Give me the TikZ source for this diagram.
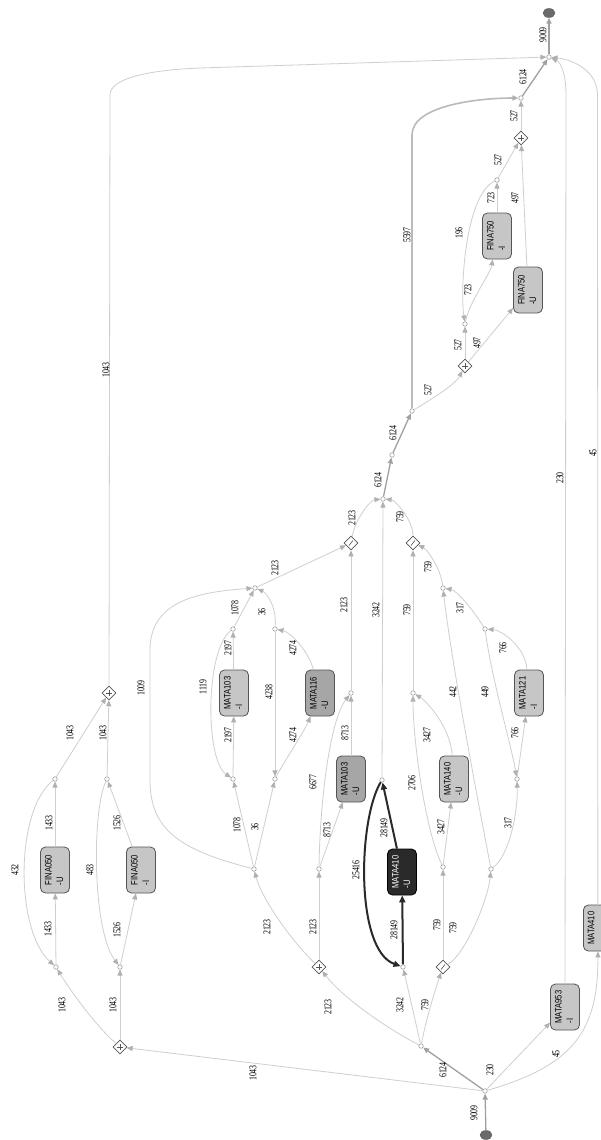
\documentclass[tikz,border=0pt]{standalone}
\usepackage{graphicx}
\usepackage{fontspec}
\setmainfont{Liberation Serif}
\newfontfamily\boxfont{Liberation Sans}
\usetikzlibrary{arrows.meta,shapes.geometric}
\definecolor{edg}{HTML}{CFCFCF}
\definecolor{arr}{HTML}{B0B0B0}
\definecolor{med}{HTML}{A0A0A0}
\definecolor{dk}{HTML}{2A2A2A}
\definecolor{bl}{HTML}{C6C6C6}
\definecolor{bm}{HTML}{A6A6A6}
\definecolor{bord}{HTML}{555555}
\definecolor{termc}{HTML}{6A6A6A}
\newcommand{\lt}[1]{\rotatebox{90}{\scalebox{0.75}[1]{\fontsize{10.5}{11}\selectfont #1}}}
\newcommand{\bt}[2]{\rotatebox{90}{\scalebox{0.8}[1]{\boxfont\fontsize{9.5}{11.5}\selectfont\begin{tabular}{@{}l@{}}#1\\#2\end{tabular}}}}
\tikzset{
 dot/.style={circle,draw=med,fill=white,line width=0.6pt,minimum size=4.5pt,inner sep=0pt},
 gate/.style={diamond,draw=bord,fill=white,line width=0.8pt,minimum size=14pt,inner sep=0pt},
 plusgate/.style={gate,path picture={\draw[bord,line width=0.6pt] ([xshift=-3pt]path picture bounding box.center) -- ([xshift=3pt]path picture bounding box.center) ([yshift=-3pt]path picture bounding box.center) -- ([yshift=3pt]path picture bounding box.center);}},
 xorgate/.style={gate,path picture={\draw[bord,line width=0.6pt] ([xshift=-2pt,yshift=-2.5pt]path picture bounding box.center) -- ([xshift=2pt,yshift=2.5pt]path picture bounding box.center);}},
 act/.style={rectangle,rounded corners=5pt,draw=bord,line width=0.8pt,minimum width=29pt,minimum height=46pt,inner sep=0pt,fill=bl},
 actm/.style={act,fill=bm},
 actd/.style={act,fill=dk,draw=black,text=white},
 lbl/.style={inner sep=0pt,text=black},
 term/.style={ellipse,fill=termc,draw=bord,minimum width=12pt,minimum height=9pt,inner sep=0pt},
 flow/.style={draw=edg,line width=0.8pt,-{Triangle[length=6pt,width=5pt,color=arr]}},
 flowm/.style={draw=med,line width=1.3pt,-{Triangle[length=6pt,width=5pt,color=med]}},
 flowd/.style={draw=dk,line width=2pt,-{Triangle[length=7pt,width=6pt,color=dk]}},
}
\begin{document}
\begin{tikzpicture}[x=1pt,y=-1pt]
\fill[white] (0,0) rectangle (601,1140);
\useasboundingbox (0,0) rectangle (601,1140);
% terminals and dots
\node[term] (S) at (486,1135) {};
\node[term] (E2) at (549,13) {};
\node[dot] (d0) at (485,1091) {};
\node[dot] (A) at (421,1046) {};
\node[dot] (J) at (403,967) {};
\node[dot] (K) at (382,780) {};
\node[dot] (M) at (383,499) {};
\node[dot] (L) at (443,867) {};
\node[dot] (N) at (491,869) {};
\node[dot] (O) at (413,693) {};
\node[dot] (Q) at (517,779) {};
\node[dot] (R) at (443,588) {};
\node[dot] (T) at (485,629) {};
\node[dot] (U) at (319,869) {};
\node[dot] (V) at (254,869) {};
\node[dot] (W) at (351,693) {};
\node[dot] (B1) at (233,779) {};
\node[dot] (B2) at (275,779) {};
\node[dot] (C1) at (233,629) {};
\node[dot] (C2) at (275,629) {};
\node[dot] (Z) at (255,588) {};
\node[dot] (E) at (392,455) {};
\node[dot] (F) at (412,411) {};
\node[dot] (H) at (465,324) {};
\node[dot] (I) at (497,180) {};
\node[dot] (G) at (521,98) {};
\node[dot] (EM) at (549,57) {};
\node[dot] (D1) at (56,967) {};
\node[dot] (D2) at (120,967) {};
\node[dot] (D3) at (55,779) {};
\node[dot] (D4) at (107,779) {};
% gates
\node[xorgate] (X1) at (443,967) {};
\node[xorgate] (X2) at (413,543) {};
\node[xorgate] (X3) at (351,543) {};
\node[plusgate] (P1) at (120,1047) {};
\node[plusgate] (P2) at (319,967) {};
\node[plusgate] (P3) at (465,366) {};
\node[plusgate] (P4) at (521,138) {};
\node[plusgate] (P5) at (109,693) {};
% activities
\node[act] (f050u) at (55,870) {\bt{FINA050}{-U}};
\node[act] (f050i) at (141,870) {\bt{FINA050}{-I}};
\node[act] (m103i) at (234,693) {\bt{MATA103}{-I}};
\node[actm] (m116) at (320,693) {\bt{MATA116}{-U}};
\node[actm] (m103u) at (351,779) {\bt{MATA103}{-U}};
\node[actd] (m410) at (402,872) {\bt{MATA410}{-U}};
\node[act] (m140) at (454,779) {\bt{MATA140}{-U}};
\node[act] (m121) at (529,693) {\bt{MATA121}{-I}};
\node[act] (m953) at (565,1007) {\bt{MATA953}{-I}};
\node[act,anchor=west] (m410b) at (583,928) {\bt{MATA410}{\phantom{-U}}};
\node[act] (f750i) at (497,236) {\bt{FINA750}{-I}};
\node[act] (f750u) at (528,290) {\bt{FINA750}{-U}};
% edges
\draw[flowm] (S) -- (d0);
\draw[flowm] (d0) -- (A);
\draw[flow] (d0) -- (m953);
\draw[flow] (d0) .. controls (575,1065) and (598,1030) .. (m410b);
\draw[flow] (m410b) -- (597.5,95) .. controls (597.5,72) and (575,60) .. (EM);
\draw[flow] (m953) -- (566,95) .. controls (566,72) and (560,62) .. (EM);
\draw[flow] (d0) -- (P1);
\draw[flow] (A) .. controls (426,1020) and (435,990) .. (X1);
\draw[flow] (A) -- (J);
\draw[flow] (A) .. controls (390,1030) and (345,1000) .. (P2);
\draw[flowd] (J) -- (m410);
\draw[flowd] (m410) -- (K);
\draw[flowd] (K) .. controls (358,820) and (355,950) .. (J);
\draw[flow] (K) -- (M);
\draw[flow] (X1) -- (L);
\draw[flow] (X1) .. controls (465,955) and (488,900) .. (N);
\draw[flow] (L) -- (m140);
\draw[flow] (L) .. controls (425,830) and (413,740) .. (O);
\draw[flow] (m140) .. controls (450,725) and (425,700) .. (O);
\draw[flow] (O) -- (X2);
\draw[flow] (N) .. controls (510,855) and (518,810) .. (Q);
\draw[flow] (N) .. controls (470,760) and (450,650) .. (R);
\draw[flow] (Q) -- (m121);
\draw[flow] (m121) .. controls (525,645) and (500,630) .. (T);
\draw[flow] (T) .. controls (492,680) and (510,740) .. (Q);
\draw[flow] (T) .. controls (470,605) and (455,590) .. (R);
\draw[flow] (R) .. controls (440,565) and (425,548) .. (X2);
\draw[flow] (X2) .. controls (413,520) and (395,500) .. (M);
\draw[flow] (P2) -- (U);
\draw[flow] (P2) .. controls (295,945) and (262,900) .. (V);
\draw[flow] (U) -- (m103u);
\draw[flow] (U) .. controls (320,800) and (330,720) .. (W);
\draw[flow] (m103u) -- (W);
\draw[flow] (W) -- (X3);
\draw[flow] (V) -- (B1);
\draw[flow] (V) -- (B2);
\draw[flow] (V) .. controls (180,850) and (150,830) .. (150,780) -- (150,650) .. controls (150,600) and (200,592) .. (Z);
\draw[flow] (B1) -- (m103i);
\draw[flow] (m103i) -- (C1);
\draw[flow] (C1) .. controls (205,650) and (205,760) .. (B1);
\draw[flow] (B2) .. controls (285,760) and (305,730) .. (m116);
\draw[flow] (m116) .. controls (308,650) and (290,632) .. (C2);
\draw[flow] (C2) -- (B2);
\draw[flow] (C1) -- (Z);
\draw[flow] (C2) .. controls (277,605) and (265,592) .. (Z);
\draw[flow] (Z) -- (X3);
\draw[flow] (X3) .. controls (355,520) and (370,500) .. (M);
\draw[flowm] (M) -- (E);
\draw[flowm] (E) -- (F);
\draw[flow,line width=1.6pt,draw=edg!90!black] (F) -- (412,135) .. controls (412,105) and (480,98) .. (G);
\draw[flow] (F) .. controls (430,400) and (455,385) .. (P3);
\draw[flow] (P3) -- (H);
\draw[flow] (P3) -- (f750u);
\draw[flow] (H) .. controls (470,300) and (490,275) .. (f750i);
\draw[flow] (f750i) -- (I);
\draw[flow] (I) .. controls (465,195) and (460,290) .. (H);
\draw[flow] (I) -- (P4);
\draw[flow] (f750u) -- (P4);
\draw[flow] (P4) -- (G);
\draw[flowm] (G) -- (EM);
\draw[flowm] (EM) -- (E2);
\draw[flow] (P1) .. controls (95,1025) and (70,990) .. (D1);
\draw[flow] (P1) -- (D2);
\draw[flow] (D1) -- (f050u);
\draw[flow] (f050u) -- (D3);
\draw[flow] (D3) .. controls (15,810) and (15,930) .. (D1);
\draw[flow] (D2) -- (f050i);
\draw[flow] (f050i) -- (D4);
\draw[flow] (D4) .. controls (92,810) and (92,930) .. (D2);
\draw[flow] (D3) -- (P5);
\draw[flow] (D4) -- (P5);
\draw[flow] (P5) -- (110,95) .. controls (110,78) and (150,70) .. (200,68) -- (EM);
% labels
\node[lbl] (t1) at (474,1113) {\lt{9009}};
\node[lbl] (t2) at (443,1070) {\lt{6124}};
\node[lbl] (t3) at (490,1070) {\lt{230}};
\node[lbl] (t4) at (556,1054) {\lt{45}};
\node[lbl] (t5) at (560,478) {\lt{230}};
\node[lbl] (t6) at (593,453) {\lt{45}};
\node[lbl] (t7) at (253,1073) {\lt{1043}};
\node[lbl] (t8) at (400,1005) {\lt{3242}};
\node[lbl] (t9) at (425,1005) {\lt{759}};
\node[lbl] (t10) at (328,1007) {\lt{2123}};
\node[lbl] (t11) at (394,930) {\lt{28149}};
\node[lbl] (t12) at (384,828) {\lt{28149}};
\node[lbl] (t13) at (356,870) {\lt{25416}};
\node[lbl] (t14) at (376,610) {\lt{3242}};
\node[lbl] (t15) at (437,925) {\lt{759}};
\node[lbl] (t16) at (453,928) {\lt{759}};
\node[lbl] (t17) at (441,827) {\lt{3427}};
\node[lbl] (t18) at (412,783) {\lt{2706}};
\node[lbl] (t19) at (427,735) {\lt{3427}};
\node[lbl] (t20) at (407,610) {\lt{759}};
\node[lbl] (t21) at (508,823) {\lt{317}};
\node[lbl] (t22) at (453,692) {\lt{442}};
\node[lbl] (t23) at (515,733) {\lt{766}};
\node[lbl] (t24) at (503,648) {\lt{766}};
\node[lbl] (t25) at (485,692) {\lt{449}};
\node[lbl] (t26) at (460,608) {\lt{317}};
\node[lbl] (t27) at (428,567) {\lt{759}};
\node[lbl] (t28) at (400,517) {\lt{759}};
\node[lbl] (t29) at (313,927) {\lt{2123}};
\node[lbl] (t30) at (267,927) {\lt{2123}};
\node[lbl] (t31) at (327,830) {\lt{8713}};
\node[lbl] (t32) at (313,782) {\lt{6677}};
\node[lbl] (t33) at (345,733) {\lt{8713}};
\node[lbl] (t34) at (344,605) {\lt{2123}};
\node[lbl] (t35) at (237,825) {\lt{1078}};
\node[lbl] (t36) at (255,827) {\lt{36}};
\node[lbl] (t37) at (141,688) {\lt{1009}};
\node[lbl] (t38) at (228,735) {\lt{2197}};
\node[lbl] (t39) at (228,648) {\lt{2197}};
\node[lbl] (t40) at (203,687) {\lt{1119}};
\node[lbl] (t41) at (293,735) {\lt{4274}};
\node[lbl] (t42) at (293,648) {\lt{4274}};
\node[lbl] (t43) at (269,692) {\lt{4238}};
\node[lbl] (t44) at (235,608) {\lt{1078}};
\node[lbl] (t45) at (262,612) {\lt{36}};
\node[lbl] (t46) at (275,568) {\lt{2123}};
\node[lbl] (t47) at (352,518) {\lt{2123}};
\node[lbl] (t48) at (378,480) {\lt{6124}};
\node[lbl] (t49) at (393,433) {\lt{6124}};
\node[lbl] (t50) at (407,235) {\lt{5597}};
\node[lbl] (t51) at (428,390) {\lt{527}};
\node[lbl] (t52) at (458,345) {\lt{527}};
\node[lbl] (t53) at (477,343) {\lt{497}};
\node[lbl] (t54) at (468,290) {\lt{723}};
\node[lbl] (t55) at (491,198) {\lt{723}};
\node[lbl] (t56) at (459,233) {\lt{196}};
\node[lbl] (t57) at (498,160) {\lt{527}};
\node[lbl] (t58) at (515,198) {\lt{497}};
\node[lbl] (t59) at (514,116) {\lt{527}};
\node[lbl] (t60) at (523,77) {\lt{6124}};
\node[lbl] (t61) at (543,35) {\lt{9009}};
\node[lbl] (t62) at (62,1005) {\lt{1043}};
\node[lbl] (t63) at (113,1005) {\lt{1043}};
\node[lbl] (t64) at (48,929) {\lt{1433}};
\node[lbl] (t65) at (49,823) {\lt{1433}};
\node[lbl] (t66) at (15,870) {\lt{432}};
\node[lbl] (t67) at (117,930) {\lt{1526}};
\node[lbl] (t68) at (117,823) {\lt{1526}};
\node[lbl] (t69) at (90,870) {\lt{483}};
\node[lbl] (t70) at (70,733) {\lt{1043}};
\node[lbl] (t71) at (103,733) {\lt{1043}};
\node[lbl] (t72) at (106,370) {\lt{1043}};
\end{tikzpicture}
\end{document}
